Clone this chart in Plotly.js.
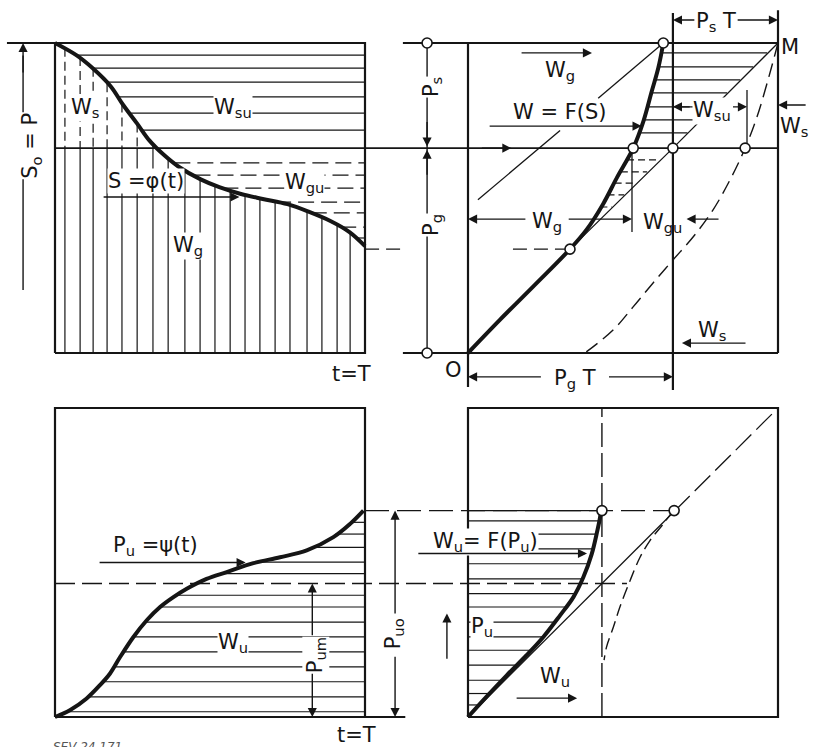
<!DOCTYPE html>
<html>
<head>
<meta charset="utf-8">
<script src="https://cdn.plot.ly/plotly-3.0.1.min.js"></script>
<style>
  html, body { margin: 0; padding: 0; background: #fff; }
  #chart { width: 814px; height: 747px; }
</style>
</head>
<body>
<div id="chart"></div>
<script>
// every panel is drawn in its own units, 0..10 along both sides of its box

// top left: storage content S = phi(t)
const phiT = [0, 0.7, 1.2, 1.8, 2.2, 2.65, 3.05, 3.5, 4.0, 4.7, 5.3, 6.0, 6.7, 7.5, 8.2, 8.9, 9.5, 10];
const phiS = [10, 9.6, 9.2, 8.6, 8.0, 7.4, 6.85, 6.4, 6.0, 5.6, 5.35, 5.13, 4.97, 4.8, 4.55, 4.25, 3.9, 3.45];
const levelPg = 6.61;
const vHatchT = [0.32, 0.81, 1.23, 1.68, 2.16, 2.65, 3.16, 3.65, 4.19, 4.68, 5.16, 5.65, 6.13, 6.61, 7.10, 7.58, 8.13, 8.61, 9.10, 9.52];
const vHatchTop = [9.85, 9.55, 9.2, 8.7, 8.05, 7.4, 6.75, 6.3, 5.9, 5.6, 5.4, 5.25, 5.1, 4.98, 4.88, 4.78, 4.58, 4.4, 4.15, 3.9];
const suHatchS = [9.61, 9.19, 8.74, 8.26, 7.74, 7.19];
const suHatchT0 = [0.7, 1.25, 1.65, 2.0, 2.4, 2.8];
const guHatchS = [6.13, 5.74, 5.32, 4.87, 4.52, 4.06, 3.71];
const guHatchT0 = [3.85, 4.5, 5.4, 7.1, 8.25, 9.2, 9.75];

// top right: W = F(S)
const fsU = [0, 1.02, 2.1, 3.29, 3.82, 4.36, 4.8, 5.33, 5.66, 5.93, 6.14, 6.3];
const fsV = [0, 1.06, 2.14, 3.35, 3.97, 4.81, 5.65, 6.61, 7.48, 8.45, 9.2, 10];
const tangentU = [3.29, 6.61, 10];
const tangentV = [3.35, 6.61, 10];
const shiftedU = [10, 9.65, 9.32, 8.94, 8.45, 7.9, 7.26, 6.61, 5.97, 5.32, 4.68, 3.77];
const shiftedV = [10, 8.71, 7.61, 6.61, 5.58, 4.61, 3.74, 3.0, 2.26, 1.48, 0.74, 0];
const trHatchV = [9.68, 9.23, 8.81, 8.39, 7.94, 7.52, 7.1];
const trHatchU0 = [6.23, 6.14, 6.02, 5.9, 5.75, 5.62, 5.5];
const trHatchU1 = [9.65, 9.2, 8.78, 8.36, 7.92, 7.5, 7.08];
const trDashV = [6.23, 5.84, 5.48, 5.1, 4.71];
const trDashU0 = [5.13, 4.93, 4.73, 4.5, 4.27];
const trDashU1 = [6.17, 5.78, 5.42, 5.04, 4.65];
const trCircU = [-1.32, -1.32, 3.29, 5.33, 6.3, 6.61, 8.94];
const trCircV = [10, 0, 3.35, 6.61, 10, 6.61, 6.61];

// bottom left: useful power P_u = psi(t)
const psiT = [0, 0.48, 1.02, 1.45, 1.77, 2.1, 2.53, 2.96, 3.39, 3.82, 4.25, 4.89, 5.54, 6.4, 7.26, 8.12, 8.98, 9.52, 9.95];
const psiP = [0, 0.22, 0.6, 1.03, 1.4, 1.94, 2.59, 3.13, 3.56, 3.88, 4.15, 4.47, 4.69, 4.98, 5.17, 5.39, 5.82, 6.25, 6.68];
const levelPum = 4.32;
const levelPuo = 6.68;
const uHatchP = [6.3, 5.92, 5.49, 5.01, 4.64, 3.94, 3.56, 3.07, 2.59, 2.11, 1.62, 1.14, 0.65, 0.17];
const uHatchT0 = [9.57, 9.05, 8.35, 6.5, 5.4, 3.93, 3.39, 2.9, 2.53, 2.2, 1.9, 1.55, 1.07, 0.4];

// bottom right: W_u = F(P_u)
const fpU = [0, 0.6, 1.25, 1.89, 2.43, 2.97, 3.4, 3.72, 3.99, 4.17, 4.26, 4.29];
const fpV = [0, 0.66, 1.35, 2.0, 2.59, 3.29, 3.88, 4.52, 5.27, 6.02, 6.46, 6.68];
const brDashU = [6.62, 6.3, 5.87, 5.55, 5.23, 4.9, 4.69, 4.47, 4.39];
const brDashV = [6.68, 6.25, 5.71, 5.17, 4.42, 3.56, 2.91, 2.27, 1.84];
const wuHatchV = [6.68, 6.35, 5.92, 5.44, 4.96, 4.47, 3.99, 3.56, 3.07, 2.59, 2.16, 1.68, 1.19, 0.76, 0.39];
const wuHatchU1 = [4.29, 4.25, 4.15, 4.03, 3.9, 3.7, 3.45, 3.17, 2.8, 2.43, 2.02, 1.55, 1.1, 0.69, 0.36];
const brCircU = [4.32, 6.65];
const brCircV = [6.68, 6.68];

const ink = '#151515';
const FONT = 'DejaVu Sans, Liberation Sans, sans-serif';
const W = 814, H = 747;

let traces = [];

function line(p, xs, ys, opt) {
    opt = opt || {};
    traces.push({
        x: xs, y: ys, xaxis: 'x' + p, yaxis: 'y' + p,
        type: 'scatter', mode: 'lines', hoverinfo: 'skip', connectgaps: false,
        line: { color: ink, width: opt.w || 1.3, dash: opt.dash || 'solid', shape: opt.shape || 'linear', smoothing: 1 }
    });
}

function hatchH(p, ys, x0s, x1s, opt) {
    let xs = [], yy = [];
    ys.forEach((y, i) => {
        xs.push(Array.isArray(x0s) ? x0s[i] : x0s, Array.isArray(x1s) ? x1s[i] : x1s, null);
        yy.push(y, y, null);
    });
    line(p, xs, yy, opt);
}

function circles(p, xs, ys) {
    traces.push({
        x: xs, y: ys, xaxis: 'x' + p, yaxis: 'y' + p, type: 'scatter', mode: 'markers', hoverinfo: 'skip',
        marker: { symbol: 'circle', size: 10, color: 'white', line: { color: ink, width: 1.6 } }
    });
}

// ---- top left
line('', [0, 10, 10, 0, 0], [0, 0, 10, 10, 0], { w: 2.2 });
line('', [-1.55, 0], [10, 10], { w: 2 });
let solidX = [], solidY = [], dashX = [], dashY = [];
vHatchT.forEach((t, i) => {
    let top = vHatchTop[i];
    if (top > levelPg) {
        dashX.push(t, t, null); dashY.push(top, levelPg, null);
        top = levelPg;
    }
    solidX.push(t, t, null); solidY.push(top, 0, null);
});
line('', solidX, solidY, { w: 1.2 });
line('', dashX, dashY, { w: 1.2, dash: '9px,5px' });
hatchH('', suHatchS, suHatchT0, 10, { w: 1.2 });
hatchH('', guHatchS, guHatchT0, 10, { w: 1.2, dash: '16px,7px' });
line('', [-1.03, -1.03], [2.03, 9.6], { w: 1.4 });
line('', phiT, phiS, { w: 4, shape: 'spline' });

// ---- top right
line('2', [-13.32, 10], [levelPg, levelPg], { w: 1.6 });
line('2', [-2.1, 10], [10, 10], { w: 2.2 });
line('2', [-2.1, 10], [0, 0], { w: 2.2 });
line('2', [0, 0], [-1.1, 10], { w: 2.2 });
line('2', [6.61, 6.61], [-1.19, 10.97], { w: 2.2 });
line('2', [10, 10], [0, 11.06], { w: 2.2 });
line('2', [-1.32, -1.32], [0, 10], { w: 1.4 });
line('2', [-3.32, -2.03, null, 1.45, 3.29], [3.35, 3.35, null, 3.35, 3.35], { w: 1.3, dash: '14px,7px' });
hatchH('2', trHatchV, trHatchU0, trHatchU1, { w: 1.2 });
hatchH('2', trDashV, trDashU0, trDashU1, { w: 1.2, dash: '7px,4px' });
line('2', tangentU, tangentV, { w: 1.3 });
line('2', [6.3, 4.2, null, 2.97, 0.32], [10, 8.22, null, 7.18, 4.94], { w: 1.3 });
line('2', shiftedU, shiftedV, { w: 1.4, dash: '14px,7px', shape: 'spline' });
line('2', [9.0, 9.0], [6.64, 8.48], { w: 1.3 });
line('2', [5.29, 5.29], [3.9, 6.61], { w: 1.3 });
line('2', fsU, fsV, { w: 4, shape: 'spline' });
circles('2', trCircU, trCircV);

// ---- bottom left
line('3', [0, 10, 10, 0, 0], [0, 0, 10, 10, 0], { w: 2.2 });
line('3', [10, 11.3], [0, 0], { w: 2 });
hatchH('3', uHatchP, uHatchT0, 10, { w: 1.2 });
line('3', [0, 18.45], [levelPum, levelPum], { w: 1.3, dash: '20px,7px' });
line('3', [10, 19.94], [levelPuo, levelPuo], { w: 1.3, dash: '24px,8px' });
line('3', psiT, psiP, { w: 4, shape: 'spline' });

// ---- bottom right
line('4', [0, 10, 10, 0, 0], [0, 0, 10, 10, 0], { w: 2.2 });
line('4', [4.32, 4.32], [0, 10], { w: 1.4, dash: '24px,6px' });
hatchH('4', wuHatchV, 0, wuHatchU1, { w: 1.2 });
line('4', [0, 6.65], [0, 6.65], { w: 1.3 });
line('4', [6.65, 10], [6.65, 10], { w: 1.3, dash: '22px,7px' });
line('4', brDashU, brDashV, { w: 1.4, dash: '12px,6px', shape: 'spline' });
line('4', fpU, fpV, { w: 4, shape: 'spline' });
circles('4', brCircU, brCircV);

// ---- texts, then arrows drawn over them
function label(p, x, y, text, opt) {
    return Object.assign({
        xref: 'x' + p, yref: 'y' + p, x: x, y: y, text: text, showarrow: false,
        font: { family: FONT, size: 21, color: ink }, bgcolor: 'white', borderpad: 0
    }, opt || {});
}
function arrow(p, x0, y0, x1, y1) {
    return {
        xref: 'x' + p, yref: 'y' + p, axref: 'x' + p, ayref: 'y' + p,
        x: x1, y: y1, ax: x0, ay: y0, text: '', showarrow: true,
        arrowhead: 2, arrowsize: 1.3, arrowwidth: 1.4, arrowcolor: ink, standoff: 0, startstandoff: 0
    };
}
const clear = { bgcolor: 'rgba(0,0,0,0)' };

const annotations = [
    label('', 0.97, 7.9, 'W<sub>s</sub>'),
    label('', 5.74, 7.9, 'W<sub>su</sub>'),
    label('', 2.94, 5.55, 'S =φ(t)'),
    label('', 8.06, 5.5, 'W<sub>gu</sub>'),
    label('', 4.29, 3.45, 'W<sub>g</sub>'),
    label('', 9.58, -0.68, 't=T', clear),
    label('', -0.76, 6.7, 'S<sub>o</sub> = P', { textangle: -90 }),

    label('2', 2.97, 9.1, 'W<sub>g</sub>', clear),
    label('2', 2.97, 7.78, 'W = F(S)', clear),
    label('2', 8.0, 10.68, 'P<sub>s</sub> T'),
    label('2', 10.4, 9.87, 'M', clear),
    label('2', 7.87, 7.8, 'W<sub>su</sub>'),
    label('2', 10.52, 7.3, 'W<sub>s</sub>', clear),
    label('2', 2.55, 4.22, 'W<sub>g</sub>'),
    label('2', 6.26, 4.2, 'W<sub>gu</sub>', clear),
    label('2', 7.87, 0.7, 'W<sub>s</sub>', clear),
    label('2', -0.48, -0.55, 'O', clear),
    label('2', 3.45, -0.85, 'P<sub>g</sub> T'),
    label('2', -1.16, 8.58, 'P<sub>s</sub>', { textangle: -90 }),
    label('2', -1.16, 4.13, 'P<sub>g</sub>', { textangle: -90 }),

    label('3', 3.23, 5.55, 'P<sub>u</sub> =ψ(t)'),
    label('3', 5.74, 2.39, 'W<sub>u</sub>'),
    label('3', 9.74, -0.58, 't=T', clear),
    label('3', 8.42, 2.0, 'P<sub>um</sub>', { textangle: -90 }),
    label('3', 10.94, 2.68, 'P<sub>uo</sub>', { textangle: -90 }),
    label('3', -0.1, -0.96, 'SEV 24 171', { xanchor: 'left', font: { family: FONT, size: 12, color: '#555', style: 'italic' }, bgcolor: 'rgba(0,0,0,0)' }),

    label('4', 0.58, 5.66, 'W<sub>u</sub>= F(P<sub>u</sub>)'),
    label('4', 0.45, 2.9, 'P<sub>u</sub>'),
    label('4', 2.8, 1.29, 'W<sub>u</sub>', clear),

    arrow('', -1.03, 9.0, -1.03, 10),
    arrow('', 1.52, 5.03, 5.95, 5.03),

    arrow('2', 1.68, 9.68, 4.0, 9.68),
    arrow('2', 0.65, 7.32, 5.6, 7.32),
    arrow('2', 0.4, levelPg, 1.4, levelPg),
    arrow('2', 7.35, 10.74, 6.61, 10.74),
    arrow('2', 8.65, 10.74, 10, 10.74),
    arrow('2', 7.2, 7.94, 6.61, 7.94),
    arrow('2', 8.5, 7.94, 9.0, 7.94),
    arrow('2', 10.94, 8.0, 10, 8.0),
    arrow('2', 1.9, 4.32, 0, 4.32),
    arrow('2', 3.2, 4.32, 5.29, 4.32),
    arrow('2', 8.13, 4.32, 7.05, 4.32),
    arrow('2', 9.0, 0.32, 6.9, 0.32),
    arrow('2', 2.4, -0.77, 0, -0.77),
    arrow('2', 4.5, -0.77, 6.61, -0.77),
    arrow('2', -1.32, 7.5, -1.32, 6.66),
    arrow('2', -1.32, 5.7, -1.32, 6.56),

    arrow('3', 1.39, 5.0, 6.15, 5.0),
    arrow('3', 8.3, 2.6, 8.3, levelPum),
    arrow('3', 8.3, 1.45, 8.3, 0),
    arrow('3', 10.97, 3.3, 10.97, levelPuo),
    arrow('3', 10.97, 2.0, 10.97, 0),

    arrow('4', -1.65, 5.29, 3.84, 5.29),
    arrow('4', -0.68, 1.84, -0.68, 3.35),
    arrow('4', 1.52, 0.61, 3.52, 0.61)
];

// panel boxes on the page, in pixels: [left, top, right, bottom]
const boxes = { '': [55, 43, 365, 353], '2': [468, 43, 778, 353], '3': [55, 408, 365, 717], '4': [468, 408, 778, 717] };

let layout = {
    width: W, height: H, autosize: false,
    margin: { l: 0, r: 0, t: 0, b: 0 },
    paper_bgcolor: 'white', plot_bgcolor: 'white',
    showlegend: false,
    annotations: annotations
};
Object.keys(boxes).forEach(p => {
    let [L, T, R, B] = boxes[p];
    let sx = (R - L) / 10, sy = (B - T) / 10;
    let xa = { range: [-L / sx, (W - L) / sx], visible: false, fixedrange: true, domain: [0, 1] };
    let ya = { range: [(B - H) / sy, B / sy], visible: false, fixedrange: true, domain: [0, 1] };
    if (p !== '') { xa.overlaying = 'x'; ya.overlaying = 'y'; xa.anchor = 'y' + p; ya.anchor = 'x' + p; }
    layout['xaxis' + p] = xa;
    layout['yaxis' + p] = ya;
});

Plotly.newPlot('chart', traces, layout, { staticPlot: true, displayModeBar: false });
</script>
</body>
</html>
